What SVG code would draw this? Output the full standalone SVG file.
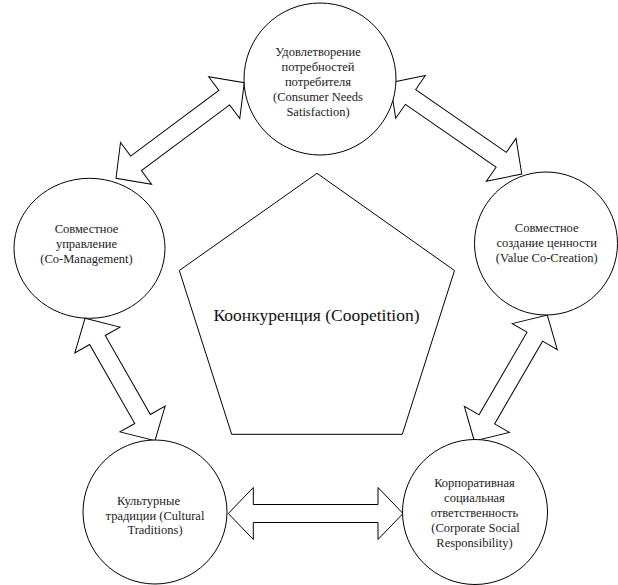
<svg xmlns="http://www.w3.org/2000/svg" width="618" height="585" viewBox="0 0 618 585">
<style>
.shape{fill:#fff;stroke:#000;stroke-width:1}
.t{font-family:"Liberation Serif","Times New Roman",serif;font-size:12.5px;fill:#222;text-anchor:middle}
.big{font-family:"Liberation Serif","Times New Roman",serif;font-size:17.5px;fill:#111;text-anchor:middle}
</style>
<rect width="618" height="585" fill="#fff"/>
<g id="connectors">
<path class="shape" transform="translate(228.3,513.5)" d="M0,0 L25,-26 L25,-9 L149.7,-9 L149.7,-26 L174.7,0 L149.7,26 L149.7,9 L25,9 L25,26 Z"/>
<path class="shape" transform="translate(116,178.3) rotate(-36.7)" d="M0,0 L25,-26 L25,-9 L135,-9 L135,-26 L160,0 L135,26 L135,9 L25,9 L25,26 Z"/>
<path class="shape" transform="translate(390,82.7) rotate(34.73)" d="M0,0 L25,-26 L25,-9 L135.3,-9 L135.3,-26 L160.3,0 L135.3,26 L135.3,9 L25,9 L25,26 Z"/>
<path class="shape" transform="translate(474.3,441) rotate(-59.9)" d="M0,0 L25,-26 L25,-9 L120.6,-9 L120.6,-26 L145.6,0 L120.6,26 L120.6,9 L25,9 L25,26 Z"/>
<path class="shape" transform="translate(85,318.3) rotate(60.24)" d="M0,0 L25,-26 L25,-9 L116,-9 L116,-26 L141,0 L116,26 L116,9 L25,9 L25,26 Z"/>
</g>
<g id="center">
<polygon class="shape" points="317,173.3 454.5,270.5 402.3,434.3 231.7,434.3 179.3,270.5"/>
<text class="big" x="316.5" y="321">Коонкуренция (Coopetition)</text>
</g>
<g id="consumer">
<circle class="shape" cx="320" cy="79" r="76"/>
<text class="t" x="318" y="56">Удовлетворение</text>
<text class="t" x="318" y="71">потребностей</text>
<text class="t" x="318" y="86">потребителя</text>
<text class="t" x="318" y="101">(Consumer Needs</text>
<text class="t" x="318" y="116">Satisfaction)</text>
</g>
<g id="comanagement">
<ellipse class="shape" cx="89.5" cy="248.3" rx="75.5" ry="70"/>
<text class="t" x="86.5" y="233">Совместное</text>
<text class="t" x="86.5" y="248">управление</text>
<text class="t" x="86.5" y="263">(Co-Management)</text>
</g>
<g id="valuecocreation">
<circle class="shape" cx="546" cy="243.5" r="71.5"/>
<text class="t" x="546.7" y="232">Совместное</text>
<text class="t" x="546.7" y="247">создание ценности</text>
<text class="t" x="546.7" y="262">(Value Co-Creation)</text>
</g>
<g id="cultural">
<circle class="shape" cx="155" cy="512" r="72"/>
<text class="t" x="148.5" y="505">Культурные</text>
<text class="t" x="155" y="519.5">традиции (Cultural</text>
<text class="t" x="155" y="534">Traditions)</text>
</g>
<g id="csr">
<circle class="shape" cx="475" cy="512" r="72.5"/>
<text class="t" x="474.5" y="487">Корпоративная</text>
<text class="t" x="474.5" y="502">социальная</text>
<text class="t" x="474.5" y="517">ответственность</text>
<text class="t" x="475.5" y="532">(Corporate Social</text>
<text class="t" x="474.5" y="547">Responsibility)</text>
</g>
</svg>
